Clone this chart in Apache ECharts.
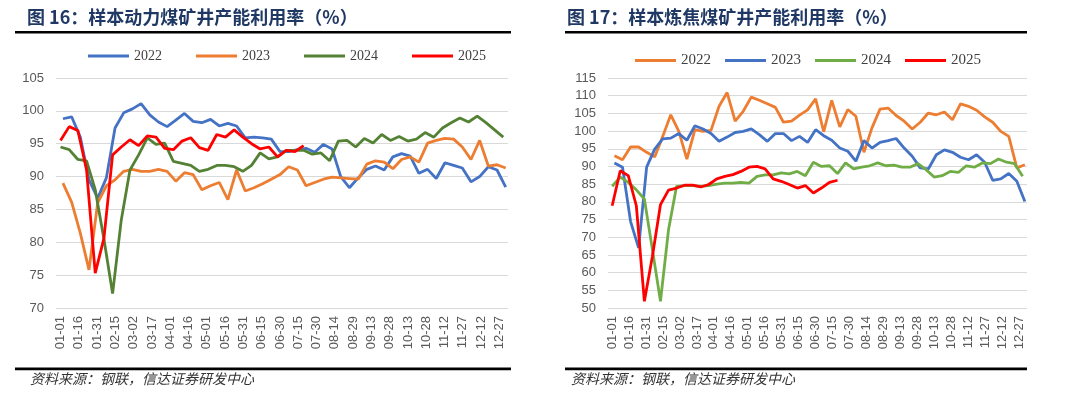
<!DOCTYPE html>
<html>
<head>
<meta charset="utf-8">
<title>样本煤矿井产能利用率</title>
<script src="https://cdn.jsdelivr.net/npm/echarts@6/dist/echarts.min.js"></script>
<style>
  html, body { margin: 0; padding: 0; background: #fff; }
  #main { width: 1080px; height: 399px; }
</style>
</head>
<body>
<div id="main"></div>
<script>
// x 轴标签（每 15 天一个）
var dayLabels = ['01-01', '01-16', '01-31', '02-15', '03-02', '03-17', '04-01', '04-16', '05-01',
  '05-16', '05-31', '06-15', '06-30', '07-15', '07-30', '08-14', '08-29', '09-13', '09-28',
  '10-13', '10-28', '11-12', '11-27', '12-12', '12-27'];
var labelDays = dayLabels.map(function (d, i) { return i * 15; });

// 周度数据：首个数据点所在的日序号，以及周间隔（天）
var startDay = { '2022': 2, '2023': 2, '2024': 0, '2025': 0 };
var weekStep = 7.12;

// 图16 样本动力煤矿井产能利用率（%）
var thermal2022 = [98.8, 99.1, 96.0, 89.5, 86.7, 89.8, 97.4, 99.7, 100.3, 101.1, 99.4, 98.3, 97.6,
  98.6, 99.6, 98.4, 98.2, 98.7, 97.7, 98.1, 97.7, 95.9, 96.0, 95.9, 95.7, 93.8, 93.8, 94.1, 94.3,
  93.7, 94.9, 94.2, 90.0, 88.3, 89.8, 91.1, 91.6, 91.0, 93.0, 93.5, 93.1, 90.5, 91.1, 89.7, 92.1,
  91.7, 91.3, 89.2, 90.0, 91.5, 91.0, 88.4];
var thermal2023 = [89.0, 86.1, 81.4, 75.8, 86.0, 88.6, 89.5, 90.8, 91.1, 90.8, 90.8, 91.1, 90.8,
  89.3, 90.6, 90.3, 88.0, 88.6, 89.1, 86.5, 91.0, 87.8, 88.3, 88.9, 89.6, 90.3, 91.5, 91.0, 88.6,
  89.1, 89.6, 89.9, 89.8, 89.7, 89.6, 91.9, 92.4, 92.2, 91.2, 92.6, 93.0, 92.2, 95.1, 95.5, 95.8,
  95.7, 94.5, 92.6, 95.5, 91.6, 91.8, 91.3];
var thermal2024 = [94.5, 94.1, 92.6, 92.4, 88.0, 80.5, 72.2, 83.4, 91.0, 93.3, 95.9, 94.9, 95.1,
  92.3, 92.0, 91.7, 90.8, 91.1, 91.7, 91.7, 91.5, 90.8, 91.7, 93.6, 92.7, 93.0, 94.0, 94.0, 94.0,
  93.4, 93.6, 92.4, 95.4, 95.5, 94.5, 95.8, 95.1, 96.4, 95.5, 96.1, 95.4, 95.7, 96.7, 96.0, 97.4,
  98.2, 98.9, 98.3, 99.2, 98.2, 97.1, 96.0];
var thermal2025 = [95.5, 97.6, 97.0, 91.0, 75.3, 80.6, 93.3, 94.5, 95.6, 94.7, 96.2, 96.0, 94.3,
  94.1, 95.4, 95.9, 94.4, 94.0, 96.4, 96.0, 97.1, 96.0, 95.0, 94.2, 94.5, 93.0, 94.0, 93.8, 94.7];

// 图17 样本炼焦煤矿井产能利用率（%）
var coking2022 = [93.0, 91.9, 95.5, 95.5, 94.0, 92.7, 98.5, 104.6, 99.9, 92.1, 100.4, 99.9, 100.2,
  107.0, 110.9, 102.8, 105.6, 109.6, 108.7, 107.7, 106.7, 102.5, 102.8, 104.5, 106.0, 109.1, 99.8,
  108.7, 101.2, 106.1, 104.2, 94.0, 100.9, 106.2, 106.5, 104.4, 102.8, 100.6, 102.5, 105.1, 104.6,
  105.4, 103.2, 107.7, 107.0, 105.9, 104.0, 102.5, 99.9, 98.5, 89.6, 90.5];
var coking2023 = [91.0, 89.8, 74.5, 67.0, 89.8, 94.9, 97.8, 98.0, 99.3, 97.4, 101.5, 100.6, 99.3,
  97.1, 98.3, 99.6, 99.9, 100.6, 99.0, 97.1, 99.3, 99.3, 97.3, 98.5, 96.8, 100.4, 98.7, 97.4, 95.2,
  94.3, 91.5, 97.3, 95.2, 96.8, 97.3, 97.9, 95.2, 92.9, 89.6, 89.3, 93.3, 94.7, 94.0, 92.6, 91.9,
  93.3, 91.2, 86.1, 86.5, 88.0, 85.8, 80.1];
var coking2024 = [84.4, 87.0, 85.5, 83.4, 80.8, 66.5, 51.9, 72.1, 84.4, 84.6, 84.6, 84.4, 84.6,
  85.0, 85.3, 85.3, 85.5, 85.3, 87.2, 87.6, 87.6, 88.2, 87.9, 88.6, 87.4, 91.2, 90.0, 90.2, 88.0,
  91.0, 89.3, 89.8, 90.2, 91.0, 90.2, 90.4, 89.8, 89.8, 90.8, 89.1, 87.0, 87.4, 88.6, 88.3, 90.2,
  89.8, 91.0, 90.8, 92.1, 91.2, 90.8, 87.2];
var coking2025 = [78.9, 88.8, 87.4, 78.9, 51.9, 64.6, 79.2, 83.3, 83.9, 84.7, 84.7, 84.2, 84.9,
  86.5, 87.2, 87.7, 88.6, 89.8, 90.0, 89.3, 86.5, 85.8, 84.9, 83.9, 84.6, 82.5, 83.9, 85.5, 86.1];

var BLUE = '#4472C4', ORANGE = '#ED7D31', RED = '#FF0000';

function weekly(year, values) {
  return values.map(function (v, i) { return [startDay[year] + i * weekStep, v]; });
}

function lineSeries(name, idx, year, values, color) {
  return {
    name: name, type: 'line', xAxisIndex: idx, yAxisIndex: idx,
    data: weekly(year, values), showSymbol: false, symbol: 'none',
    lineStyle: { width: 2.8, color: color }, itemStyle: { color: color }
  };
}

function makeX(idx) {
  return {
    type: 'value', gridIndex: idx, min: -3.7, max: 367,
    axisLine: { show: false }, axisTick: { show: false }, splitLine: { show: false },
    axisLabel: {
      customValues: labelDays, rotate: 90, margin: 8, fontSize: 13, color: '#595959',
      fontFamily: 'Arial, "Liberation Sans"',
      formatter: function (v) { return dayLabels[Math.round(v / 15)] || ''; }
    }
  };
}

function makeY(idx, min, max) {
  return {
    type: 'value', gridIndex: idx, min: min, max: max, interval: 5,
    axisLine: { show: false }, axisTick: { show: false },
    splitLine: { lineStyle: { color: '#d9d9d9', width: 1 } },
    axisLabel: { margin: 12, fontSize: 13, color: '#595959', fontFamily: 'Arial, "Liberation Sans"' }
  };
}

function makeLegend(names, left, top, gap, size) {
  return {
    data: names, left: left, top: top, padding: 0, icon: 'rect',
    itemWidth: 41, itemHeight: 3, itemGap: gap,
    formatter: function (n) { return n.slice(1); },
    textStyle: { fontFamily: '"Liberation Serif", "Times New Roman"', fontSize: size, color: '#404040' }
  };
}

var titleStyle = { fontFamily: '"Noto Sans CJK SC"', fontWeight: 'bold', fontSize: 18, color: '#1f3864' };
var sourceFont = 'italic 14px "Noto Sans CJK SC"';

var chart = echarts.init(document.getElementById('main'));
chart.setOption({
  animation: false,
  backgroundColor: '#fff',
  title: [
    { text: '图 16：样本动力煤矿井产能利用率（%）', left: 27, top: 8, padding: 0, textStyle: titleStyle },
    { text: '图 17：样本炼焦煤矿井产能利用率（%）', left: 567, top: 8, padding: 0, textStyle: titleStyle }
  ],
  legend: [
    makeLegend(['A2022', 'A2023', 'A2024', 'A2025'], 88, 49, 34, 14),
    makeLegend(['B2022', 'B2023', 'B2024', 'B2025'], 635, 53, 14, 15)
  ],
  grid: [
    { left: 56, right: 572, top: 78, bottom: 91 },
    { left: 608, right: 53, top: 78, bottom: 91 }
  ],
  xAxis: [makeX(0), makeX(1)],
  yAxis: [makeY(0, 70, 105), makeY(1, 50, 115)],
  series: [
    lineSeries('A2022', 0, '2022', thermal2022, BLUE),
    lineSeries('A2023', 0, '2023', thermal2023, ORANGE),
    lineSeries('A2024', 0, '2024', thermal2024, '#548235'),
    lineSeries('A2025', 0, '2025', thermal2025, RED),
    lineSeries('B2022', 1, '2022', coking2022, ORANGE),
    lineSeries('B2023', 1, '2023', coking2023, BLUE),
    lineSeries('B2024', 1, '2024', coking2024, '#70AD47'),
    lineSeries('B2025', 1, '2025', coking2025, RED)
  ],
  graphic: [
    { type: 'rect', shape: { x: 15, y: 31, width: 496, height: 2.5 }, style: { fill: '#000' } },
    { type: 'rect', shape: { x: 565, y: 31, width: 462, height: 2.5 }, style: { fill: '#000' } },
    { type: 'rect', shape: { x: 15, y: 367.5, width: 496, height: 2.7 }, style: { fill: '#000' } },
    { type: 'rect', shape: { x: 565, y: 367.5, width: 462, height: 2.7 }, style: { fill: '#000' } },
    { type: 'text', left: 30, top: 372, style: { text: '资料来源：钢联，信达证券研发中心', font: sourceFont, fill: '#333' } },
    { type: 'text', left: 571, top: 372, style: { text: '资料来源：钢联，信达证券研发中心', font: sourceFont, fill: '#333' } }
  ]
});
</script>
</body>
</html>
